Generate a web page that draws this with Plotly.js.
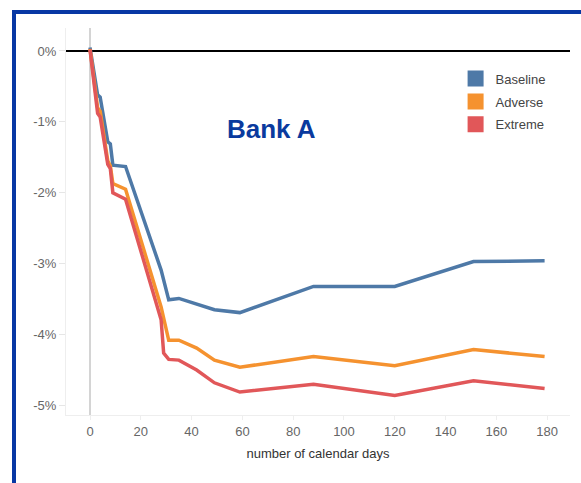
<!DOCTYPE html>
<html>
<head>
<meta charset="utf-8">
<script src="https://cdn.plot.ly/plotly-3.0.1.min.js"></script>
<style>
  html, body { margin: 0; padding: 0; background: #ffffff; }
  #wrap { position: relative; width: 581px; height: 483px; overflow: hidden; }
  #chart { position: absolute; left: 0; top: 0; width: 581px; height: 483px; }
  #frame { position: absolute; left: 12px; top: 10px; width: 700px; height: 700px;
           border: 4px solid #0737a4; pointer-events: none; z-index: 10; }
</style>
</head>
<body>
<div id="wrap">
  <div id="chart"></div>
  <div id="frame"></div>
</div>
<script>
// ---- data (percent change vs. number of calendar days) ----
const seriesNames = ['Baseline', 'Adverse', 'Extreme'];
const seriesColors = ['#4e79a7', '#f5922f', '#e15759'];

const baselineDays = [0, 3, 4, 7, 8, 9, 14, 28, 31, 35, 49, 59, 88, 120, 151, 179];
const baselineValues = [0.05, -0.62, -0.65, -1.28, -1.31, -1.61, -1.63, -3.09, -3.51, -3.49, -3.65, -3.69, -3.32, -3.32, -2.97, -2.96];

const adverseDays = [0, 3, 4, 7, 8, 9, 14, 28, 31, 35, 42, 49, 59, 88, 120, 151, 179];
const adverseValues = [0.03, -0.80, -0.85, -1.55, -1.62, -1.87, -1.95, -3.61, -4.08, -4.08, -4.19, -4.36, -4.46, -4.31, -4.44, -4.21, -4.31];

const extremeDays = [0, 3, 4, 7, 8, 9, 14, 28, 29, 31, 35, 42, 49, 59, 88, 120, 151, 179];
const extremeValues = [0.02, -0.88, -0.93, -1.60, -1.66, -2.00, -2.09, -3.79, -4.26, -4.35, -4.36, -4.50, -4.68, -4.81, -4.70, -4.86, -4.65, -4.76];

const xTickVals = [0, 20, 40, 60, 80, 100, 120, 140, 160, 180];
const yTickVals = [0, -1, -2, -3, -4, -5];
const yTickText = ['0%', '-1%', '-2%', '-3%', '-4%', '-5%'];

const chartTitle = 'Bank A';
const xTitle = 'number of calendar days';

// ---- traces ----
const xs = [baselineDays, adverseDays, extremeDays];
const ys = [baselineValues, adverseValues, extremeValues];
const traces = [];
for (let i = 0; i < 3; i++) {
  traces.push({
    type: 'scatter', mode: 'lines', x: xs[i], y: ys[i],
    name: seriesNames[i], showlegend: false,
    line: { color: seriesColors[i], width: 3.5 },
    hoverinfo: 'x+y+name'
  });
}
// legend entries as coloured squares
for (let i = 0; i < 3; i++) {
  traces.push({
    type: 'scatter', mode: 'markers', x: [null], y: [null],
    name: seriesNames[i], legendgroup: 'g' + i,
    marker: { symbol: 'square', size: 16, color: seriesColors[i] }
  });
}

const layout = {
  width: 581, height: 483,
  margin: { l: 66, r: 11, t: 28, b: 68, pad: 0 },
  paper_bgcolor: 'rgba(0,0,0,0)', plot_bgcolor: '#ffffff',
  font: { family: 'Liberation Sans, Arial, sans-serif', size: 13, color: '#666666' },
  showlegend: true,
  legend: {
    x: 0.773, y: 0.908, xanchor: 'left', yanchor: 'top',
    bgcolor: 'rgba(0,0,0,0)', traceorder: 'grouped', tracegroupgap: 3,
    font: { size: 13, color: '#444444' }
  },
  xaxis: {
    range: [-9.45, 189], tickvals: xTickVals, ticks: 'outside', ticklen: 4,
    tickcolor: '#eeeeee', showgrid: false, showline: true, linecolor: '#eeeeee', linewidth: 1,
    zeroline: true, zerolinecolor: '#d4d4d4', zerolinewidth: 2.5,
    tickfont: { size: 13, color: '#666666' },
    title: { text: xTitle, font: { size: 13, color: '#333333' }, standoff: 11 }
  },
  yaxis: {
    range: [-5.134, 0.324], tickvals: yTickVals, ticktext: yTickText,
    ticks: 'outside', ticklen: 6, tickcolor: '#e6e6e6',
    showgrid: false, showline: true, linecolor: '#eeeeee', linewidth: 1,
    zeroline: true, zerolinecolor: '#000000', zerolinewidth: 2.5,
    tickfont: { size: 13, color: '#666666' }
  },
  annotations: [{
    text: chartTitle, xref: 'paper', yref: 'paper', x: 0.408, y: 0.739,
    xanchor: 'center', yanchor: 'middle', showarrow: false,
    font: { family: 'Liberation Sans, Arial, sans-serif', size: 26, color: '#0a3a9e', weight: 'bold' }
  }]
};

Plotly.newPlot('chart', traces, layout, { displayModeBar: false, staticPlot: true });
</script>
</body>
</html>
